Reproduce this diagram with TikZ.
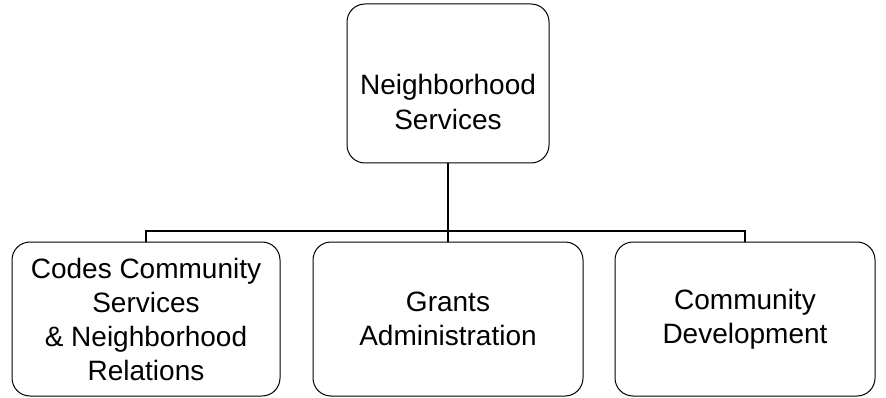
\documentclass[tikz,border=0pt]{standalone}
\usepackage{fontspec}
\setmainfont{Liberation Sans}
\usetikzlibrary{positioning, calc}
\tikzstyle{orgbox} = [draw, line width=1pt, rounded corners=18pt, align=center, inner sep=0pt, font=\fontsize{28}{34}\selectfont]
\tikzstyle{link} = [line width=2pt]

\begin{document}
\begin{tikzpicture}[x=1pt, y=-1pt]
    \useasboundingbox (0,0) rectangle (886,398);

    % Top box
    \node[orgbox, minimum width=202pt, minimum height=159pt,
          label={[font=\fontsize{28}{35}\selectfont, align=center, yshift=-18pt]center:{Neighborhood\\Services}}]
          (ns) at (448,83.5) {};

    % Units
    \node[orgbox, minimum width=268pt, minimum height=154pt] (codes) at (146,319)
          {Codes Community\\Services\\\& Neighborhood\\Relations};
    \node[orgbox, minimum width=270pt, minimum height=154pt] (grants) at (448,319)
          {Grants\\Administration};
    \node[orgbox, minimum width=260pt, minimum height=154pt] (dev) at (745,319)
          {Community\\Development};

    % Connectors
    \coordinate (bus) at ($(ns.south)+(0,68)$);
    \draw[link] (ns.south) -- (grants.north);
    \draw[link] (codes.north) |- (bus) -| (dev.north);
\end{tikzpicture}
\end{document}
